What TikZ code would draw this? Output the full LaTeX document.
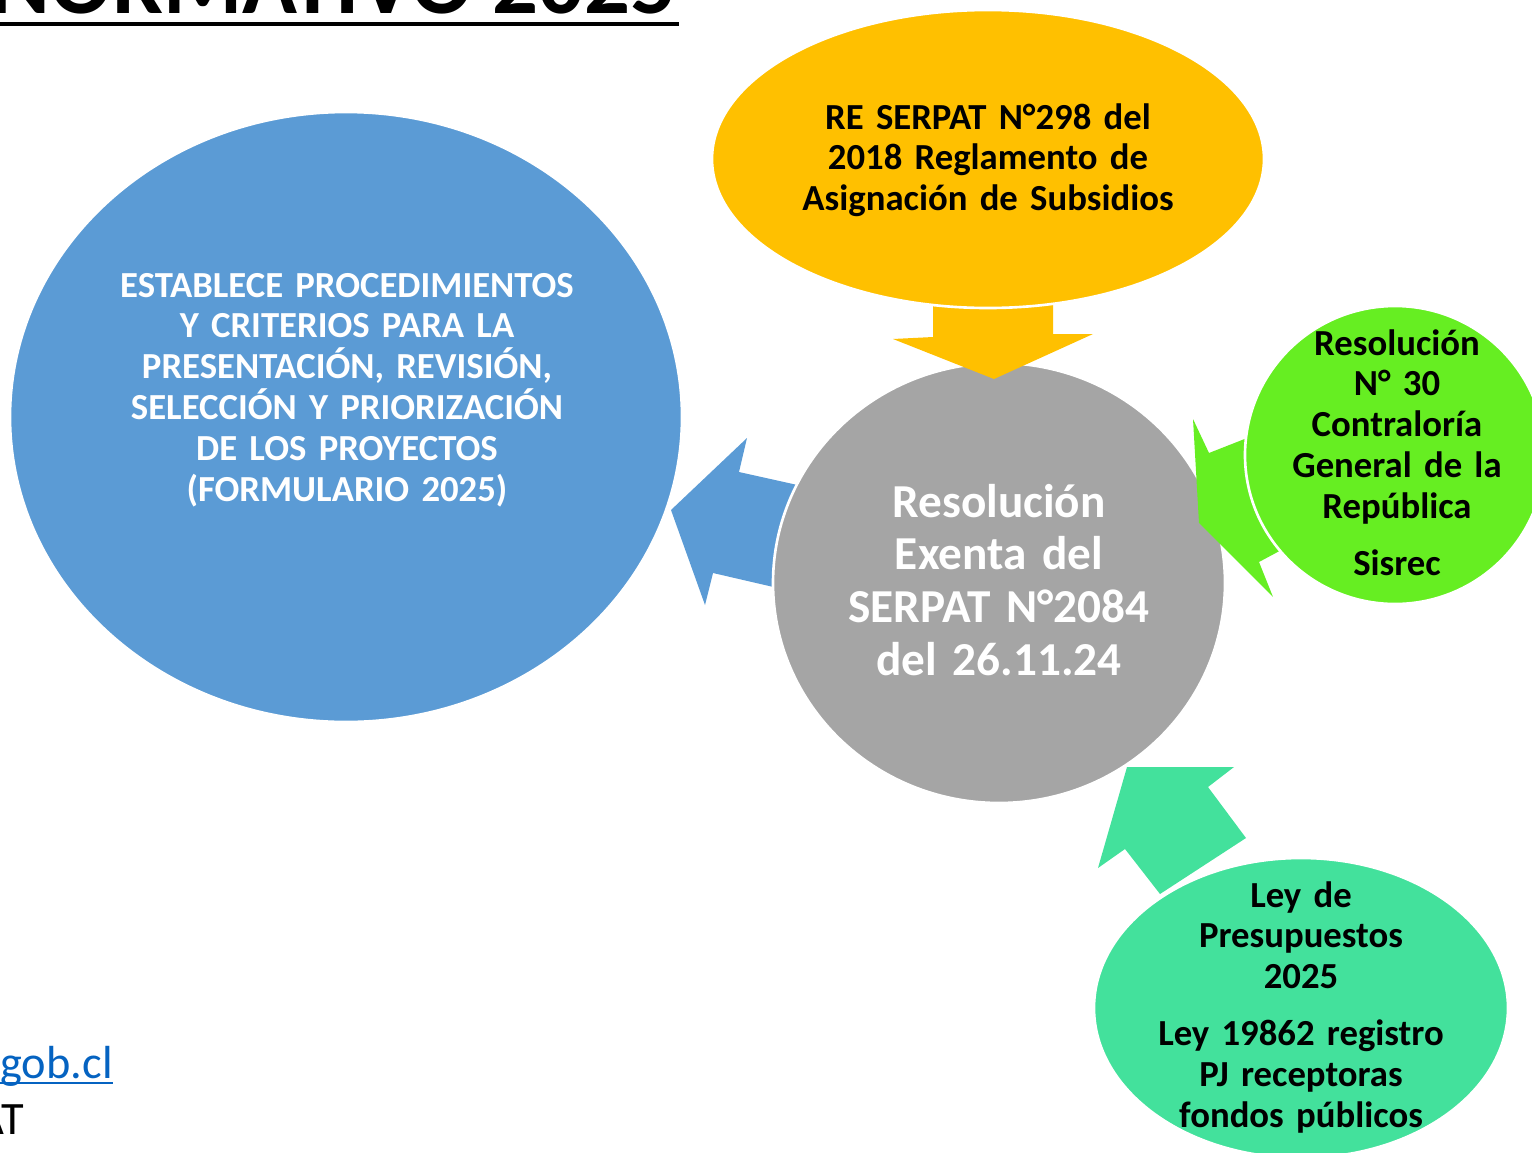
\documentclass[tikz,border=0pt]{standalone}
\usepackage{fontspec}
\setmainfont{Carlito}
\usetikzlibrary{calc}
\definecolor{blueblob}{HTML}{5B9BD5}
\definecolor{goldblob}{HTML}{FFC000}
\definecolor{greyblob}{HTML}{A5A5A5}
\definecolor{limeblob}{HTML}{66EE22}
\definecolor{mintblob}{HTML}{43E19C}
\definecolor{linkblue}{HTML}{0563C1}

\begin{document}
\begin{tikzpicture}[x=0.02cm,y=-0.02cm,
    blob/.style={draw=white,line width=1.5pt},
    txt/.style={anchor=base,align=center,inner sep=0pt,
      font=\fontsize{20.9}{23.25}\selectfont\bfseries}]
      \useasboundingbox(0,0)rectangle(1532,1153);
      \begin{scope}\clip(0,0)rectangle(1532,1153);
      \coordinate(B) at (346,417);
      \coordinate(Y) at (988,159);
      \coordinate(G) at (999,583);
      \coordinate(L) at (1395,455);
      \coordinate(M) at (1301,1008);

      % arrows that sit below the grey circle
      \fill[blueblob](820,490)--(739,472)--(747,438)--(671,510)--(705,605)--(713,573)--(795,592)--cycle;
      \fill[greyblob,blob](G)ellipse(226 and 220);

      % arrows that sit above it
      \fill[goldblob](933,300)--(933,337)--(893,339)--(994,379)--(1093,334)--(1053,334)--(1053,300)--cycle;
      \fill[limeblob](1193,419)--(1209,453)--(1270,429)--(1300,540)--(1259,562)--(1273,597)--(1199,523)--cycle;
      \fill[mintblob](1127,767)--(1234,767)--(1208,787)--(1246,838)--(1160,894)--(1125,849)--(1098,868)--cycle;

      \fill[blueblob,blob](B)ellipse(336 and 305);
      \fill[goldblob,blob](Y)ellipse(276 and 149);
      \fill[limeblob,blob](L)ellipse(150 and 149);
      \fill[mintblob,blob](M)ellipse(207 and 150);

      \node[txt,text=white,text width=12cm](estab) at (347,297){ESTABLECE PROCEDIMIENTOS\\Y CRITERIOS PARA LA\\PRESENTACIÓN, REVISIÓN,\\SELECCIÓN Y PRIORIZACIÓN\\DE LOS PROYECTOS\\(FORMULARIO 2025)};
      \node[txt,text width=9cm](regl) at (988,129){RE SERPAT N°298 del\\2018 Reglamento de\\Asignación de Subsidios};
      \node[txt,text=white,text width=9cm,font=\fontsize{26.9}{30.05}\selectfont\bfseries](resex) at (999,517){Resolución\\Exenta del\\SERPAT N°2084\\del 26.11.24};
      \node[txt,text width=6cm](contra) at (1397,355){Resolución\\N° 30\\Contraloría\\General de la\\República\\[9pt]Sisrec};
      \node[txt,text width=8cm](ley) at (1301,907){Ley de\\Presupuestos\\2025\\[9pt]Ley 19862 registro\\PJ receptoras\\fondos públicos};

      % title and footer, cut by the page edge
      \node[anchor=base east,inner sep=0pt,font=\fontsize{51.6}{60}\selectfont\bfseries](title) at (677,13){NORMATIVO 2025};
      \draw[line width=2.3pt](0,24)--(679,24);
      \node[anchor=base east,inner sep=0pt,text=linkblue,font=\fontsize{26.4}{30}\selectfont](url) at (113,1078){gob.cl};
      \draw[linkblue,line width=1.2pt](0,1083)--(113,1083);
      \node[anchor=base east,inner sep=0pt,font=\fontsize{26.4}{30}\selectfont](serp) at (24,1134){AT};
      \end{scope}
\end{tikzpicture}
\end{document}
